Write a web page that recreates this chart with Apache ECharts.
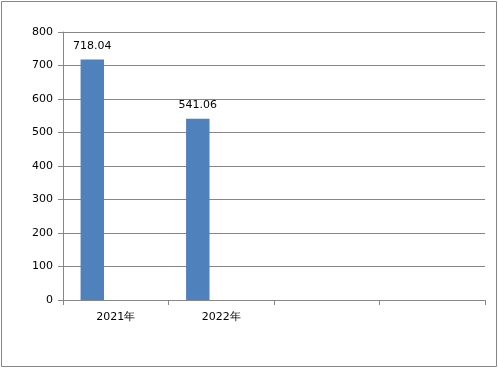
<!DOCTYPE html>
<html><head><meta charset="utf-8">
<script src="https://cdn.jsdelivr.net/npm/echarts@6/dist/echarts.min.js"></script>
<style>html,body{margin:0;padding:0;background:#fff}#c{width:498px;height:368px}</style>
</head><body><div id="c"></div>
<script>
const categories = ['2021年', '2022年', '', ''];
const values = [718.04, 541.06, null, null];
const emptyA = [null, null, null, null];
const emptyB = [null, null, null, null];
const yTicks = [0, 100, 200, 300, 400, 500, 600, 700, 800];

const chart = echarts.init(document.getElementById('c'), null, {renderer: 'canvas'});
const font = 'DejaVu Sans';
chart.setOption({
  animation: false,
  backgroundColor: '#fff',
  graphic: [{type: 'rect', shape: {x: 1.5, y: 1.5, width: 495, height: 365}, style: {fill: 'none', stroke: '#868686', lineWidth: 1}}],
  grid: {left: 63, right: 13, top: 32, bottom: 68},
  xAxis: {
    type: 'category', data: categories, boundaryGap: true,
    axisLine: {lineStyle: {color: '#868686', width: 1}},
    axisTick: {show: true, alignWithLabel: false, length: 5, lineStyle: {color: '#868686'}},
    axisLabel: {color: '#000', fontFamily: font, fontSize: 11, margin: 12, interval: 0}
  },
  yAxis: {
    type: 'value', min: yTicks[0], max: yTicks[yTicks.length - 1], interval: 100,
    axisLine: {show: true, lineStyle: {color: '#868686', width: 1}},
    axisTick: {show: true, length: 5, lineStyle: {color: '#868686'}},
    axisLabel: {color: '#000', fontFamily: font, fontSize: 11, margin: 10},
    splitLine: {lineStyle: {color: '#868686', width: 1}}
  },
  series: [
    {type: 'bar', data: values, barGap: '0%', barCategoryGap: '33.3%',
     itemStyle: {color: '#4f81bd'},
     label: {show: true, position: 'top', distance: 8, color: '#000', fontFamily: font, fontSize: 11,
       formatter: p => p.value == null ? '' : p.value.toFixed(2)}},
    {type: 'bar', data: emptyA, barGap: '0%', barCategoryGap: '33.3%'},
    {type: 'bar', data: emptyB, barGap: '0%', barCategoryGap: '33.3%'}
  ]
});
</script></body></html>
